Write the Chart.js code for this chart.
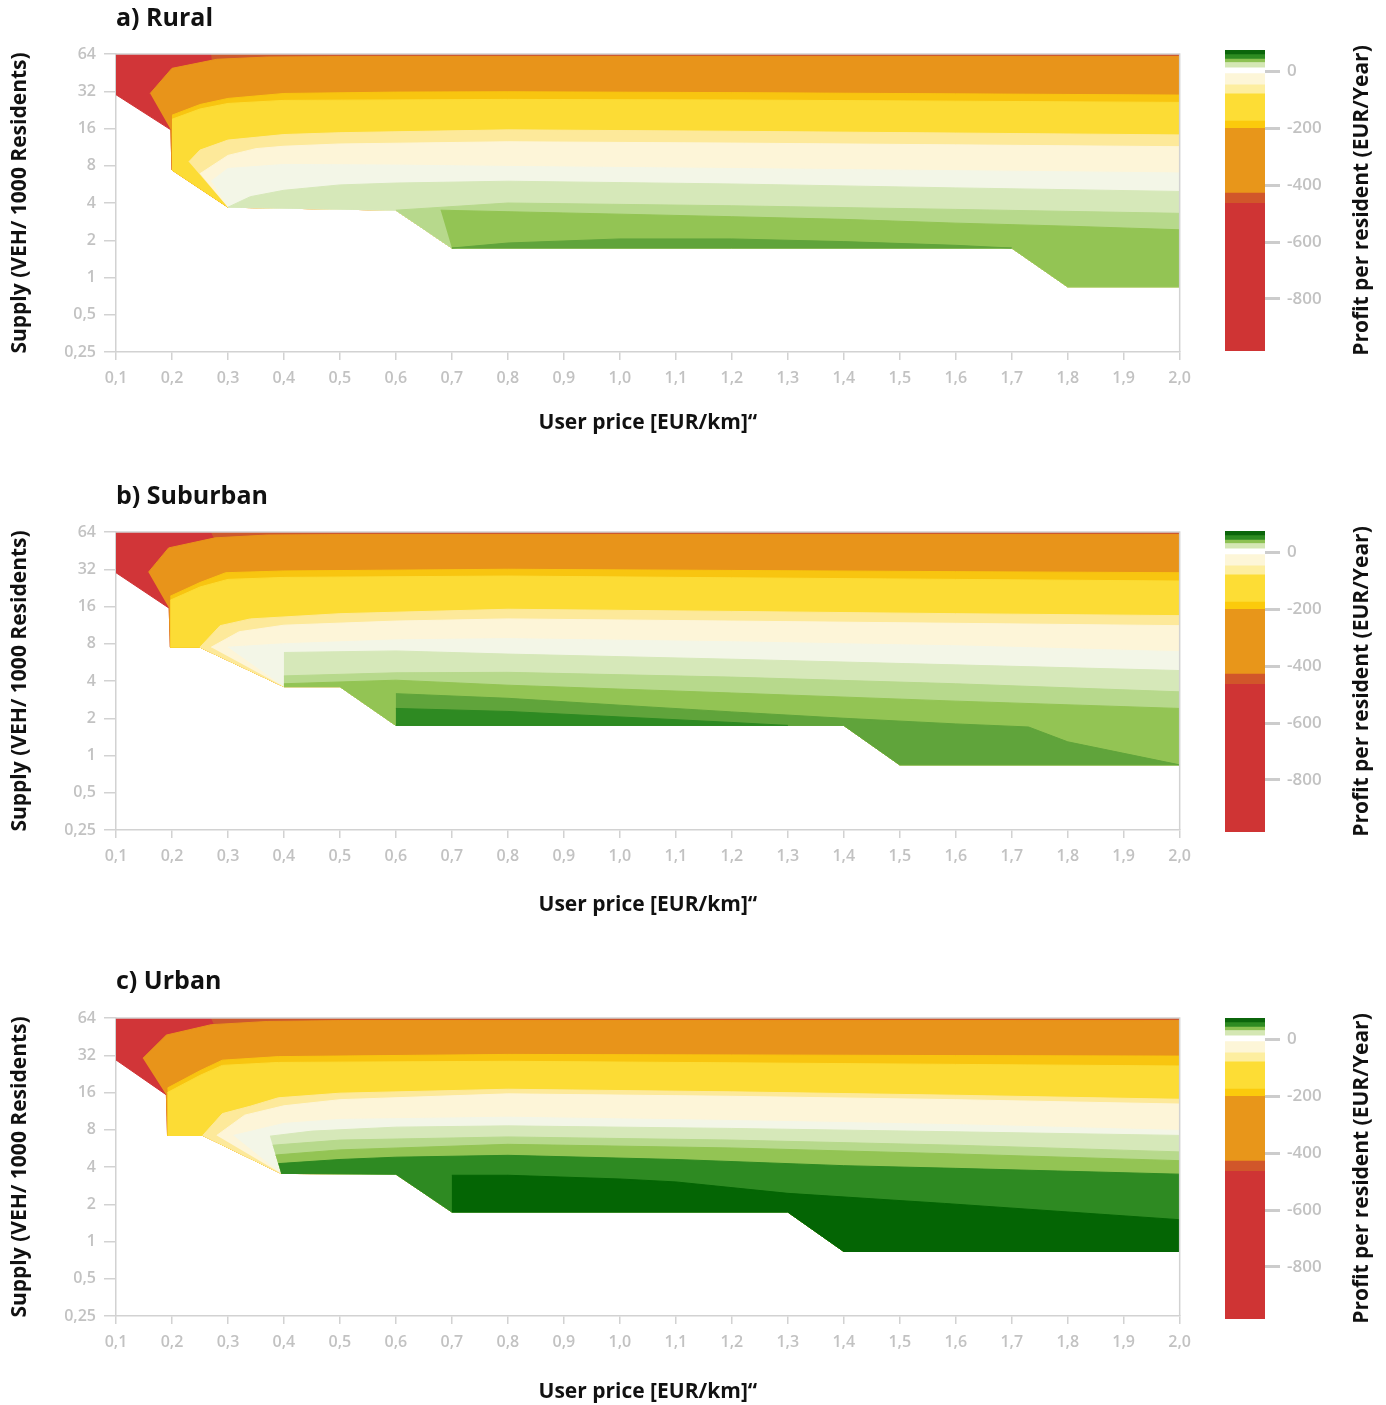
<!DOCTYPE html>
<html><head><meta charset="utf-8">
<script src="https://cdn.jsdelivr.net/npm/chart.js@4.4.1/dist/chart.umd.min.js"></script>
<style>
html,body{margin:0;padding:0;background:#fff;}
#wrap{position:relative;width:1386px;height:1405px;overflow:hidden;}
.panel{position:absolute;left:0;width:1386px;height:440px;}
.panel canvas{position:absolute;top:0;}
</style></head>
<body><div id="wrap"></div>
<script>
// ---------- axis ticks ----------
const priceTicks = [0.1,0.2,0.3,0.4,0.5,0.6,0.7,0.8,0.9,1.0,1.1,1.2,1.3,1.4,1.5,1.6,1.7,1.8,1.9,2.0];
const supplyTicks = [0.25,0.5,1,2,4,8,16,32,64];
const profitTicks = [0,-200,-400,-600,-800];

// ---------- colour scale (profit bands, EUR/resident/year) ----------
const bandLow  = [-983,-464,-428,-200,-175,-79,-47,-8,12,31,43,59];
const bandHigh = [-464,-428,-200,-175,-79,-47,-8,12,31,43,59,75];

// ---------- a) Rural : lower edge of data and upper edges of each profit level ----------
const ruralFloor = [[0.1,30],[0.198,15.6],[0.2,7.4],[0.3,3.7],[0.6,3.5],[0.7,1.73],[1.7,1.73],[1.8,0.84],[2.0,0.84]];
const ruralRed        = [[0.1,64],[2.0,64]];
const ruralOrangeRed  = [[0.27,63.5],[2.0,63.5]];
const ruralOrange     = [[0.161,30.7],[0.2,49],[0.28,58],[0.37,60.5],[0.5,61],[2.0,61]];
const ruralAmber      = [[0.2,20.5],[0.25,25],[0.3,28],[0.4,30.7],[0.6,31.5],[0.8,31.7],[1.2,31.2],[1.6,30.5],[2.0,29.8]];
const ruralYellow     = [[0.2,19],[0.25,23],[0.3,25.5],[0.4,27],[0.8,27.5],[1.2,27.2],[1.6,26.6],[2.0,26]];
const ruralPaleYellow = [[0.23,8.6],[0.25,10.7],[0.3,12.9],[0.4,14.3],[0.5,14.8],[0.8,15.6],[1.2,15.2],[1.6,14.7],[2.0,14.2]];
const ruralCream      = [[0.25,6.9],[0.3,9.7],[0.35,11],[0.4,11.5],[0.5,12],[0.8,12.5],[1.2,12.2],[1.6,11.8],[2.0,11.4]];
const ruralWhite      = [[0.27,6.0],[0.3,7.6],[0.4,8.2],[0.6,8.1],[0.8,7.9],[1.2,7.6],[1.6,7.3],[2.0,7.0]];
const ruralPale       = [[0.3,3.7],[0.34,4.5],[0.4,5.07],[0.5,5.6],[0.6,5.8],[0.8,6.0],[1.2,5.7],[1.6,5.3],[2.0,4.96]];
const ruralLight      = [[0.6,3.5],[0.8,4.0],[1.2,3.8],[1.6,3.55],[2.0,3.3]];
const ruralGreen      = [[0.68,3.5],[0.8,3.4],[1.0,3.25],[1.2,3.1],[1.4,2.95],[1.6,2.75],[1.8,2.6],[2.0,2.43]];
const ruralMedium     = [[0.7,1.73],[0.8,1.9],[1.0,2.05],[1.2,2.05],[1.4,1.95],[1.6,1.82],[1.7,1.73]];

// ---------- b) Suburban ----------
const suburbFloor = [[0.1,30],[0.195,15.5],[0.197,7.5],[0.25,7.5],[0.4,3.6],[0.5,3.6],[0.6,1.75],[1.4,1.75],[1.5,0.84],[2.0,0.84]];
const suburbRed        = [[0.1,64],[2.0,64]];
const suburbOrangeRed  = [[0.27,63.5],[2.0,63.5]];
const suburbOrange     = [[0.158,30.3],[0.194,47.6],[0.277,57.4],[0.37,60.5],[0.5,61],[2.0,61]];
const suburbAmber      = [[0.197,19.4],[0.25,25],[0.296,30],[0.4,31],[0.8,32],[1.2,31.3],[1.6,30.6],[2.0,30]];
const suburbYellow     = [[0.197,18],[0.25,23],[0.3,26.5],[0.4,27.5],[0.8,28.2],[1.2,27.3],[1.6,26.5],[2.0,25.7]];
const suburbPaleYellow = [[0.25,7.5],[0.286,11.2],[0.34,12.7],[0.5,14],[0.8,15.2],[1.2,14.6],[1.6,14],[2.0,13.5]];
const suburbCream      = [[0.27,7.5],[0.32,10],[0.4,11.3],[0.6,12.2],[0.8,12.7],[1.2,12.2],[1.6,11.7],[2.0,11.2]];
const suburbWhite      = [[0.3,7.5],[0.4,8],[0.6,8.6],[0.8,8.8],[1.2,8.3],[1.6,7.7],[2.0,6.9]];
const suburbPale       = [[0.4,6.8],[0.6,7.0],[0.8,6.6],[1.2,6.0],[1.6,5.4],[2.0,4.86]];
const suburbLight      = [[0.4,4.4],[0.6,4.66],[0.8,4.7],[1.2,4.3],[1.6,3.8],[2.0,3.27]];
const suburbGreen      = [[0.4,3.8],[0.6,4.06],[0.8,3.7],[1.2,3.2],[1.6,2.75],[2.0,2.4]];
const suburbMedium     = [[0.6,3.16],[0.8,2.9],[1.0,2.55],[1.2,2.25],[1.4,2.0],[1.6,1.8],[1.73,1.7],[1.8,1.29],[2.0,0.84]];
const suburbDark       = [[0.6,2.4],[0.8,2.27],[1.0,2.05],[1.2,1.85],[1.3,1.75]];

// ---------- c) Urban ----------
const urbanFloor = [[0.1,29.3],[0.19,15.3],[0.192,7.2],[0.255,7.2],[0.395,3.55],[0.6,3.5],[0.7,1.73],[1.3,1.73],[1.4,0.83],[2.0,0.83]];
const urbanRed        = [[0.1,64],[2.0,64]];
const urbanOrangeRed  = [[0.27,63.5],[2.0,63.5]];
const urbanOrange     = [[0.148,30.2],[0.19,46.6],[0.27,56.5],[0.37,60],[0.5,61],[2.0,61]];
const urbanAmber      = [[0.192,17.4],[0.25,24],[0.29,29.2],[0.39,31.2],[0.8,32.5],[1.2,32.2],[1.6,31.8],[2.0,31.5]];
const urbanYellow     = [[0.192,16],[0.25,22],[0.29,26.5],[0.39,28],[0.8,28.6],[1.2,27.8],[1.6,27],[2.0,26.2]];
const urbanPaleYellow = [[0.255,7.2],[0.29,10.8],[0.34,12.4],[0.39,14.5],[0.5,15.8],[0.8,17.0],[1.2,16.2],[1.6,15.2],[2.0,14.1]];
const urbanCream      = [[0.28,7.2],[0.33,10.5],[0.4,12.5],[0.5,14],[0.8,15.6],[1.2,14.9],[1.6,14],[2.0,12.9]];
const urbanWhite      = [[0.31,7.2],[0.4,9],[0.5,9.7],[0.8,10.1],[1.2,9.5],[1.6,8.8],[2.0,7.9]];
const urbanPale       = [[0.375,7.1],[0.45,7.8],[0.6,8.4],[0.8,8.6],[1.2,8.2],[1.6,7.7],[2.0,7.2]];
const urbanLight      = [[0.38,6.0],[0.5,6.6],[0.8,7.0],[1.2,6.6],[1.6,6.0],[2.0,5.3]];
const urbanGreen      = [[0.385,5.0],[0.5,5.5],[0.8,6.1],[1.2,5.7],[1.6,5.1],[2.0,4.5]];
const urbanDark       = [[0.39,4.26],[0.5,4.6],[0.6,4.8],[0.8,4.97],[1.1,4.6],[1.4,4.1],[1.6,3.9],[2.0,3.5]];
const urbanDarkest    = [[0.7,3.43],[0.8,3.43],[1.0,3.2],[1.1,3.03],[1.3,2.45],[1.58,2.03],[2.0,1.5]];

// ---------- styles ----------
const C = {
  red:'#d13538', orangeRed:'#cd582e', orange:'#e8941a', amber:'#f8c510', yellow:'#fcdc35',
  paleYellow:'#fde99a', cream:'#fdf5d8', white:'#f3f6e7', pale:'#d6e8b9', light:'#b7d98c',
  green:'#93c454', medium:'#60a43b', dark:'#2e8a22', darkest:'#046504'
};
const bandColors = ['#cf3434','#d1562a','#e8961a','#fbca0c','#fddd35','#fdeea0','#fdf6d8','#ffffff','#d4e7b4','#8cc152','#2e8b22','#0b650b'];
const warm = [C.red,C.orangeRed,C.orange,C.amber,C.yellow,C.paleYellow,C.cream,C.white,C.pale,C.light,C.green];

const panels = [
  {top:0,   title:'a) Rural',    titleY:19, xTitleY:423, cbTop:50, floor:ruralFloor,
   layers:[ruralRed,ruralOrangeRed,ruralOrange,ruralAmber,ruralYellow,ruralPaleYellow,ruralCream,ruralWhite,ruralPale,ruralLight,ruralGreen,ruralMedium],
   colors:[...warm, C.medium]},
  {top:478, title:'b) Suburban', titleY:19, xTitleY:427, cbTop:53, floor:suburbFloor,
   layers:[suburbRed,suburbOrangeRed,suburbOrange,suburbAmber,suburbYellow,suburbPaleYellow,suburbCream,suburbWhite,suburbPale,suburbLight,suburbGreen,suburbMedium,suburbDark],
   colors:[...warm, C.medium, C.dark]},
  {top:964, title:'c) Urban',    titleY:18, xTitleY:428, cbTop:54, floor:urbanFloor,
   layers:[urbanRed,urbanOrangeRed,urbanOrange,urbanAmber,urbanYellow,urbanPaleYellow,urbanCream,urbanWhite,urbanPale,urbanLight,urbanGreen,urbanDark,urbanDarkest],
   colors:[...warm, C.dark, C.darkest]}
];

const FONT = '"Open Sans", Roboto, sans-serif';
Chart.defaults.font.family = FONT;
const TICK_COLOR = '#c2c2c2';
const LINE_COLOR = '#d2d2d2';
const TEXT_DARK = '#111111';
const AXIS_TITLE_SIZE = 21;

function polygon(upper, floor) {
  const x0 = upper[0][0], x1 = upper[upper.length - 1][0];
  const pts = upper.map(([x, y]) => ({x, y}));
  floor.filter(([x]) => x >= x0 - 1e-9 && x <= x1 + 1e-9).reverse()
       .forEach(([x, y]) => pts.push({x, y}));
  return pts;
}

const framePlugin = {
  id: 'frame',
  afterDatasetsDraw(chart) {
    const {ctx, chartArea: a} = chart;
    ctx.save();
    ctx.strokeStyle = LINE_COLOR; ctx.lineWidth = 1.5;
    ctx.beginPath();
    ctx.moveTo(a.left, a.top); ctx.lineTo(a.right, a.top); ctx.lineTo(a.right, a.bottom);
    ctx.stroke();
    ctx.restore();
  }
};

function fmtComma(v) { return String(v).replace('.', ','); }

const wrap = document.getElementById('wrap');
panels.forEach(p => {
  const div = document.createElement('div');
  div.className = 'panel'; div.style.top = p.top + 'px';
  wrap.appendChild(div);

  const cv = document.createElement('canvas');
  cv.width = 1200; cv.height = 440; cv.style.left = '0px';
  cv.style.width = '1200px'; cv.style.height = '440px';
  div.appendChild(cv);

  const cb = document.createElement('canvas');
  cb.width = 186; cb.height = 440; cb.style.left = '1200px';
  cb.style.width = '186px'; cb.style.height = '440px';
  div.appendChild(cb);

  const n = p.layers.length;
  const datasets = p.layers.map((U, i) => ({
    data: polygon(U, p.floor),
    backgroundColor: p.colors[i],
    borderColor: p.colors[i],
    borderWidth: 1,
    borderJoinStyle: 'round',
    pointRadius: 0,
    fill: 'shape',
    tension: 0,
    order: n - i
  }));

  const titlePlugin = {
    id: 'panelTitle',
    afterDraw(chart) {
      const ctx = chart.ctx;
      ctx.save();
      ctx.fillStyle = TEXT_DARK;
      ctx.font = 'bold 25px ' + FONT;
      ctx.textBaseline = 'middle';
      ctx.textAlign = 'left';
      ctx.fillText(p.title, 116, p.titleY);
      ctx.restore();
    }
  };

  new Chart(cv, {
    type: 'line',
    data: { datasets },
    options: {
      responsive: false, animation: false, events: [],
      layout: { padding: { top: 54, right: 20, left: 0, bottom: 0 } },
      plugins: { legend: { display: false }, tooltip: { enabled: false } },
      scales: {
        x: {
          type: 'linear', min: 0.1, max: 2.0,
          afterBuildTicks: s => { s.ticks = priceTicks.map(v => ({value: v})); },
          afterFit: s => { s.height = 88; },
          ticks: { autoSkip: false, maxRotation: 0, padding: 9, color: TICK_COLOR,
                   font: { size: 16, weight: '600' }, callback: v => v.toFixed(1).replace('.', ',') },
          grid: { drawOnChartArea: false, drawTicks: true, tickLength: 8, color: LINE_COLOR, lineWidth: 1.5 },
          border: { display: true, color: LINE_COLOR, width: 1.5 },
          title: { display: true, text: 'User price [EUR/km]\u201C', color: TEXT_DARK,
                   font: { size: AXIS_TITLE_SIZE, weight: 'bold' },
                   padding: { top: 0, bottom: 440 - p.xTitleY - AXIS_TITLE_SIZE * 0.6 } }
        },
        y: {
          type: 'logarithmic', min: 0.25, max: 64,
          afterBuildTicks: s => { s.ticks = supplyTicks.map(v => ({value: v})); },
          afterFit: s => { s.width = 116; },
          ticks: { autoSkip: false, padding: 8, color: TICK_COLOR,
                   font: { size: 16, weight: '600' }, callback: v => fmtComma(v) },
          grid: { drawOnChartArea: false, drawTicks: true, tickLength: 12, color: LINE_COLOR, lineWidth: 1.5 },
          border: { display: true, color: LINE_COLOR, width: 1.5 },
          title: { display: true, text: 'Supply (VEH/ 1000 Residents)', color: TEXT_DARK,
                   font: { size: AXIS_TITLE_SIZE, weight: 'bold' }, padding: { top: 7, bottom: 0 } }
        }
      }
    },
    plugins: [framePlugin, titlePlugin]
  });

  const cbTitle = {
    id: 'cbTitle',
    afterDraw(chart) {
      const ctx = chart.ctx, a = chart.chartArea;
      ctx.save();
      ctx.fillStyle = TEXT_DARK;
      ctx.font = 'bold ' + AXIS_TITLE_SIZE + 'px ' + FONT;
      ctx.textAlign = 'center'; ctx.textBaseline = 'middle';
      ctx.translate(162, (a.top + a.bottom) / 2);
      ctx.rotate(-Math.PI / 2);
      ctx.fillText('Profit per resident (EUR/Year)', 0, 0);
      ctx.restore();
    }
  };

  new Chart(cb, {
    type: 'bar',
    data: {
      labels: [''],
      datasets: bandLow.map((lo, i) => ({
        data: [[lo, bandHigh[i]]],
        backgroundColor: bandColors[i],
        borderWidth: 0,
        barPercentage: 1, categoryPercentage: 1, grouped: false
      }))
    },
    options: {
      responsive: false, animation: false, events: [],
      layout: { padding: { top: p.cbTop, bottom: 440 - p.cbTop - 301, left: 25, right: 0 } },
      plugins: { legend: { display: false }, tooltip: { enabled: false } },
      scales: {
        x: { display: false },
        y: {
          position: 'right', min: -983, max: 75,
          afterBuildTicks: s => { s.ticks = profitTicks.map(v => ({value: v})); },
          afterFit: s => { s.width = 121; },
          ticks: { padding: 7, color: TICK_COLOR, font: { size: 17, weight: '600' }, callback: v => String(v) },
          grid: { drawOnChartArea: false, drawTicks: true, tickLength: 15, color: '#cccccc', lineWidth: 3 },
          border: { display: false }
        }
      }
    },
    plugins: [cbTitle]
  });
});
</script>
</body></html>
